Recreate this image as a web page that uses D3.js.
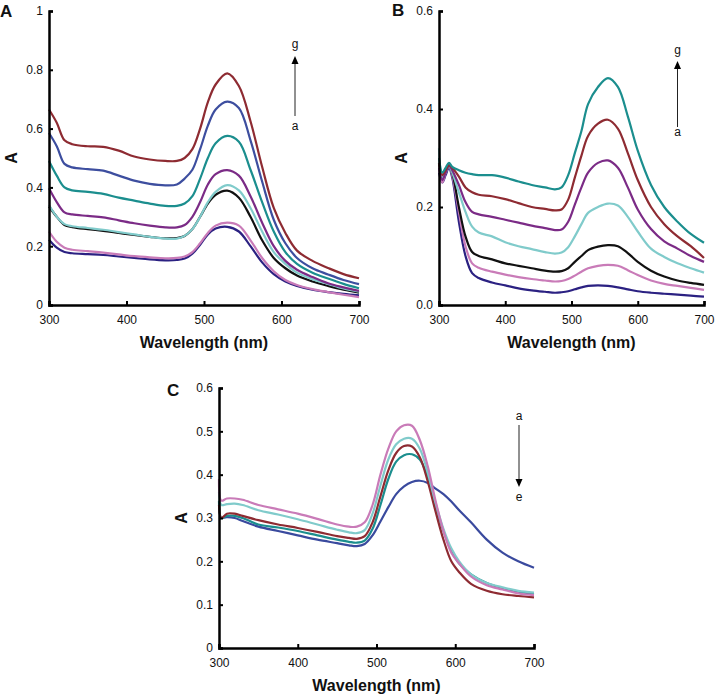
<!DOCTYPE html>
<html><head><meta charset="utf-8">
<script src="https://cdn.jsdelivr.net/npm/d3@7"></script>
<style>body{margin:0;background:#fff}svg{display:block}text{font-family:"Liberation Sans",Arial,sans-serif}</style>
</head><body>
<svg id="chart" width="715" height="695"></svg>
<script>
// ---------- Panel A ----------
const wlA = [300,310,320,330,350,370,390,410,430,450,465,475,485,495,505,515,530,545,560,575,590,605,620,640,660,680,700];
const aNavy   = [.222,.195,.18,.176,.173,.17,.165,.16,.155,.152,.153,.158,.175,.205,.24,.26,.266,.25,.2,.145,.105,.08,.065,.052,.044,.038,.033];
const aPink   = [.25,.215,.195,.188,.183,.178,.172,.166,.162,.159,.16,.165,.18,.21,.245,.27,.28,.27,.22,.16,.115,.085,.068,.054,.044,.035,.027];
const aBlack  = [.335,.3,.272,.265,.258,.252,.245,.238,.232,.227,.228,.235,.258,.3,.345,.375,.389,.365,.3,.22,.16,.125,.1,.08,.065,.052,.042];
const aCyan   = [.34,.3,.275,.268,.262,.256,.248,.24,.232,.226,.226,.235,.258,.3,.35,.385,.408,.39,.33,.25,.18,.14,.11,.088,.072,.056,.045];
const aPurple = [.397,.35,.315,.308,.303,.298,.288,.278,.27,.264,.264,.272,.3,.35,.41,.445,.459,.44,.37,.28,.2,.15,.12,.095,.074,.06,.048];
const aTeal   = [.49,.44,.40,.39,.385,.378,.365,.355,.345,.337,.337,.345,.37,.43,.5,.55,.575,.555,.46,.35,.25,.18,.14,.11,.09,.072,.057];
const aBlue   = [.585,.54,.48,.468,.462,.457,.44,.423,.412,.407,.41,.43,.46,.53,.61,.665,.692,.67,.56,.42,.29,.21,.16,.125,.104,.085,.071];
const aRed    = [.665,.62,.56,.547,.54,.538,.525,.505,.495,.49,.49,.50,.53,.60,.69,.75,.788,.745,.625,.47,.33,.245,.185,.15,.126,.105,.091];
const yTicksA = [0,0.2,0.4,0.6,0.8,1];
const yLabelsA = ["0","0.2","0.4","0.6","0.8","1"];

// ---------- Panel B ----------
const wlB = [300,305,310,315,320,330,340,350,360,380,400,420,440,460,475,485,495,505,515,525,540,555,570,585,600,620,640,660,680,700];
const bNavy   = [.27,.25,.265,.28,.26,.17,.1,.065,.055,.046,.04,.034,.03,.027,.025,.026,.028,.032,.036,.039,.04,.039,.036,.032,.028,.025,.023,.021,.019,.017];
const bPink   = [.28,.25,.27,.285,.265,.19,.12,.085,.076,.068,.062,.057,.053,.05,.048,.049,.053,.06,.068,.075,.08,.082,.08,.071,.061,.05,.043,.039,.035,.031];
const bBlack  = [.29,.26,.275,.285,.27,.2,.14,.108,.1,.093,.085,.08,.075,.07,.068,.069,.075,.088,.1,.112,.119,.122,.12,.106,.088,.07,.058,.05,.045,.041];
const bCyan   = [.32,.26,.27,.285,.27,.23,.19,.16,.148,.14,.128,.12,.114,.108,.105,.107,.118,.14,.165,.188,.2,.207,.203,.18,.15,.115,.098,.085,.075,.066];
const bPurple = [.28,.255,.27,.285,.275,.245,.21,.19,.185,.18,.174,.168,.162,.157,.153,.154,.17,.205,.24,.27,.29,.295,.28,.24,.195,.155,.13,.115,.1,.088];
const bRed    = [.29,.265,.275,.285,.28,.262,.24,.23,.225,.222,.216,.208,.2,.196,.193,.195,.215,.26,.305,.345,.37,.378,.36,.31,.255,.2,.165,.14,.12,.096];
const bTeal   = [.3,.27,.28,.29,.282,.275,.27,.267,.265,.265,.26,.252,.245,.24,.236,.24,.265,.31,.355,.41,.445,.463,.445,.385,.315,.245,.2,.17,.145,.127];
const yTicksB = [0,0.2,0.4,0.6];
const yLabelsB = ["0.0","0.2","0.4","0.6"];

// ---------- Panel C ----------
const wlC = [300,303,310,320,330,350,375,400,425,450,465,475,485,495,505,515,525,535,545,555,565,575,585,595,605,620,640,660,680,700];
const cBlue  = [.3,.3,.302,.3,.293,.28,.27,.26,.25,.242,.237,.235,.24,.26,.292,.325,.355,.373,.383,.386,.381,.368,.355,.338,.318,.29,.25,.22,.2,.185];
const cTeal  = [.34,.3,.305,.305,.3,.285,.278,.27,.26,.25,.245,.243,.248,.275,.33,.39,.43,.445,.447,.435,.395,.33,.27,.225,.195,.17,.15,.138,.13,.125];
const cRed   = [.33,.3,.31,.31,.305,.295,.285,.277,.268,.258,.254,.252,.258,.29,.35,.41,.45,.466,.465,.44,.385,.315,.25,.2,.175,.148,.132,.124,.12,.117];
const cCyan  = [.36,.33,.332,.333,.33,.318,.308,.297,.285,.273,.267,.265,.272,.31,.375,.435,.47,.483,.483,.46,.405,.335,.275,.23,.2,.17,.15,.14,.132,.128];
const cPink  = [.39,.34,.345,.345,.342,.33,.32,.31,.298,.285,.28,.28,.29,.33,.4,.46,.5,.514,.513,.48,.42,.34,.27,.22,.195,.165,.145,.135,.126,.122];
const yTicksC = [0,0.1,0.2,0.3,0.4,0.5,0.6];
const yLabelsC = ["0","0.1","0.2","0.3","0.4","0.5","0.6"];

const xTicks = [300,400,500,600,700];
const xLabels = ["300","400","500","600","700"];

const COL = {red:"#8E2B32", blue:"#3D4E9F", teal:"#1B8E8E", purple:"#7B2B86", cyan:"#80CBCB", black:"#111111", pink:"#C97BB8", navy:"#2B2182"};

const svg = d3.select("#chart");
svg.append("rect").attr("width",715).attr("height",695).attr("fill","#fff");

function panel(o){
  const g = svg.append("g");
  const x = d3.scaleLinear().domain([300,700]).range([o.x0,o.x1]);
  const y = d3.scaleLinear().domain([0,o.ymax]).range([o.y0,o.y1]);
  const line = d3.line().x(d=>x(d[0])).y(d=>y(d[1])).curve(d3.curveCatmullRom.alpha(0.5));
  o.series.forEach(s=>{
    g.append("path").datum(o.wl.map((w,i)=>[w,s.v[i]]))
      .attr("d",line).attr("fill","none").attr("stroke",s.c).attr("stroke-width",2.2)
      .attr("stroke-linejoin","round");
  });
  // axes
  const xa = g.append("g").attr("transform",`translate(0,${o.y0})`)
    .call(d3.axisBottom(x).tickValues(xTicks).tickFormat((d,i)=>xLabels[i]).tickSize(-4).tickPadding(8));
  const ya = g.append("g").attr("transform",`translate(${o.x0},0)`)
    .call(d3.axisLeft(y).tickValues(o.yt).tickFormat((d,i)=>o.yl[i]).tickSize(-4).tickPadding(6));
  [xa,ya].forEach(a=>{
    a.select(".domain").attr("stroke","#000").attr("stroke-width",2.5);
    a.selectAll(".tick line").attr("stroke","#000").attr("stroke-width",2);
    a.selectAll(".tick text").attr("font-size",12).attr("fill","#111")
      .style("font-family","'Liberation Sans',Arial,sans-serif");
  });
  xa.selectAll(".tick text").attr("dy","0.9em");
  // titles
  g.append("text").attr("x",(o.x0+o.x1)/2).attr("y",o.y0+43).attr("text-anchor","middle")
    .attr("font-size",16).attr("font-weight","bold").attr("fill","#111").text("Wavelength (nm)");
  g.append("text").attr("transform",`translate(${o.x0-32},${(o.y0+o.y1)/2}) rotate(-90)`)
    .attr("text-anchor","middle").attr("font-size",16).attr("font-weight","bold").attr("fill","#111").text("A");
  g.append("text").attr("x",o.lx).attr("y",o.ly).attr("font-size",17).attr("font-weight","bold").attr("fill","#111").text(o.letter);
  // arrow
  const ar = o.arrow;
  g.append("line").attr("x1",ar.x).attr("x2",ar.x).attr("y1",ar.ya).attr("y2",ar.yb).attr("stroke","#222").attr("stroke-width",1);
  const hy = ar.head, dir = ar.up ? 1 : -1;
  g.append("path").attr("d",`M${ar.x},${hy} L${ar.x-3.5},${hy+8*dir} L${ar.x+3.5},${hy+8*dir} Z`).attr("fill","#000");
  g.append("text").attr("x",ar.x).attr("y",ar.t1y).attr("text-anchor","middle").attr("font-size",12).attr("fill","#111").text(ar.t1);
  g.append("text").attr("x",ar.x).attr("y",ar.t2y).attr("text-anchor","middle").attr("font-size",12).attr("fill","#111").text(ar.t2);
}

panel({x0:49,x1:359,y0:305,y1:11,ymax:1,wl:wlA,yt:yTicksA,yl:yLabelsA,letter:"A",lx:0,ly:17,
  series:[{v:aNavy,c:COL.navy},{v:aPink,c:COL.pink},{v:aBlack,c:COL.black},{v:aCyan,c:COL.cyan},
          {v:aPurple,c:COL.purple},{v:aTeal,c:COL.teal},{v:aBlue,c:COL.blue},{v:aRed,c:COL.red}],
  arrow:{x:295,ya:64,yb:116,head:56,up:true,t1:"g",t1y:48,t2:"a",t2y:130}});

panel({x0:439,x1:704,y0:305,y1:11,ymax:0.6,wl:wlB,yt:yTicksB,yl:yLabelsB,letter:"B",lx:392,ly:16,
  series:[{v:bNavy,c:COL.navy},{v:bPink,c:COL.pink},{v:bBlack,c:COL.black},{v:bCyan,c:COL.cyan},
          {v:bPurple,c:COL.purple},{v:bRed,c:COL.red},{v:bTeal,c:COL.teal}],
  arrow:{x:677.5,ya:68,yb:127,head:61,up:true,t1:"g",t1y:54,t2:"a",t2y:136}});

panel({x0:219,x1:534,y0:648,y1:388,ymax:0.6,wl:wlC,yt:yTicksC,yl:yLabelsC,letter:"C",lx:167,ly:396,
  series:[{v:cBlue,c:"#3A4A9E"},{v:cTeal,c:COL.teal},{v:cRed,c:COL.red},{v:cCyan,c:COL.cyan},{v:cPink,c:COL.pink}],
  arrow:{x:519,ya:425,yb:480,head:487,up:false,t1:"a",t1y:420,t2:"e",t2y:501}});
</script>
</body></html>
